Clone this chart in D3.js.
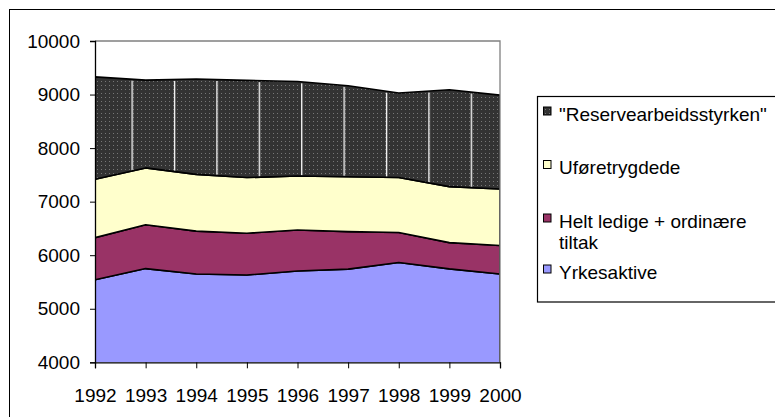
<!DOCTYPE html>
<html>
<head>
<meta charset="utf-8">
<script src="https://cdn.jsdelivr.net/npm/d3@7.9.0/dist/d3.min.js"></script>
<style>
  body { margin: 0; background: #fff; }
  svg { display: block; font-family: "Liberation Sans", Arial, sans-serif; }
</style>
</head>
<body>
<svg id="chart" width="775" height="417"></svg>
<script>
const years = [1992, 1993, 1994, 1995, 1996, 1997, 1998, 1999, 2000];
const yrkesaktive = [5540, 5750, 5650, 5630, 5705, 5740, 5865, 5745, 5650];
const heltLedige = [787, 820, 800, 780, 765, 700, 560, 490, 530];
const uforetrygdede = [1090, 1060, 1060, 1040, 1010, 1025, 1025, 1045, 1056];
const reserve = [1913, 1640, 1780, 1815, 1765, 1700, 1580, 1810, 1754];
const yTicks = [4000, 5000, 6000, 7000, 8000, 9000, 10000];

const keys = ['yrk', 'helt', 'ufo', 'res'];
const labels = {
  res: ['"Reservearbeidsstyrken"'],
  ufo: ['Uføretrygdede'],
  helt: ['Helt ledige + ordinære', 'tiltak'],
  yrk: ['Yrkesaktive']
};
const fills = { yrk: '#9999ff', helt: '#993366', ufo: '#ffffcc', res: 'url(#dots)' };

const rows = years.map((yr, i) => ({
  year: yr, yrk: yrkesaktive[i], helt: heltLedige[i], ufo: uforetrygdede[i], res: reserve[i]
}));

const svg = d3.select('#chart');
const plotL = 95, plotR = 500, plotT = 41, plotB = 362.3;

const defs = svg.append('defs');
let dots = defs.append('pattern').attr('id', 'dots')
  .attr('patternUnits', 'userSpaceOnUse').attr('width', 4).attr('height', 4);
dots.append('rect').attr('width', 4).attr('height', 4).attr('fill', '#333333');
dots.append('rect').attr('x', 1).attr('y', 1).attr('width', 1).attr('height', 1).attr('fill', '#777777');

let stripes = defs.append('pattern').attr('id', 'stripes')
  .attr('patternUnits', 'userSpaceOnUse').attr('x', 131.5).attr('width', 42.4).attr('height', 400);
stripes.append('rect').attr('width', 1.3).attr('height', 400).attr('fill', '#ffffff');

defs.append('clipPath').attr('id', 'plotclip')
  .append('rect').attr('x', plotL).attr('y', plotT).attr('width', plotR - plotL).attr('height', plotB - plotT);

// outer chart border (runs off the right and bottom edges)
svg.append('rect').attr('x', 9.5).attr('y', 9.5).attr('width', 900).attr('height', 500)
  .attr('fill', 'none').attr('stroke', '#000');

const x = d3.scalePoint().domain(years).range([plotL, plotR]);
const y = d3.scaleLinear().domain([4000, 10000]).range([plotB, plotT]);

const stacked = d3.stack().keys(keys)(rows);
const area = d3.area()
  .x(d => x(d.data.year))
  .y0(d => y(d[0]))
  .y1(d => y(d[1]));

const plot = svg.append('g').attr('clip-path', 'url(#plotclip)');
stacked.forEach(s => {
  plot.append('path')
    .attr('d', area(s))
    .attr('fill', fills[s.key])
    .attr('stroke', '#000')
    .attr('stroke-width', 1.6)
    .attr('stroke-linejoin', 'round');
});
// light rendering seams in the dotted band
let topBand = stacked[3];
plot.append('path')
  .attr('d', d3.area().x(d => x(d.data.year)).y0(d => y(d[0]) - 1).y1(d => y(d[1]) + 1.5)(topBand))
  .attr('fill', 'url(#stripes)');

// plot area frame (top and right in grey)
svg.append('path')
  .attr('d', `M${plotL},${plotT}H${plotR}V${plotB}`)
  .attr('fill', 'none').attr('stroke', '#808080').attr('stroke-width', 1.3);

const yAxis = svg.append('g').attr('transform', `translate(${plotL},0)`)
  .call(d3.axisLeft(y).tickValues(yTicks).tickSize(5).tickPadding(10).tickFormat(d3.format('d')));
const xAxis = svg.append('g').attr('transform', `translate(0,${plotB})`)
  .call(d3.axisBottom(x).tickSize(6).tickPadding(20).tickFormat(d3.format('d')));

[yAxis, xAxis].forEach(g => {
  g.selectAll('.domain').attr('stroke', '#000').attr('stroke-width', 1.3);
  g.selectAll('.tick line').attr('stroke', '#000');
  g.selectAll('text').attr('fill', '#000').style('font-size', '19px')
    .style('font-family', '"Liberation Sans", Arial, sans-serif');
});

// legend
svg.append('rect').attr('x', 537.5).attr('y', 96.5).attr('width', 400).attr('height', 205.5)
  .attr('fill', '#fff').attr('stroke', '#000').attr('stroke-width', 1.2);

const legendOrder = ['res', 'ufo', 'helt', 'yrk'];
const baselines = [120.5, 174, 227.5, 278.5];
legendOrder.forEach((k, i) => {
  let g = svg.append('g');
  g.append('rect')
    .attr('x', 543.5).attr('y', baselines[i] - 13.5)
    .attr('width', 7.5).attr('height', 8)
    .attr('fill', fills[k]).attr('stroke', '#000').attr('stroke-width', 1);
  labels[k].forEach((line, j) => {
    g.append('text')
      .attr('x', 559).attr('y', baselines[i] + j * 21.5)
      .style('font-size', '19px')
      .attr('fill', '#000')
      .text(line);
  });
});
</script>
</body>
</html>
